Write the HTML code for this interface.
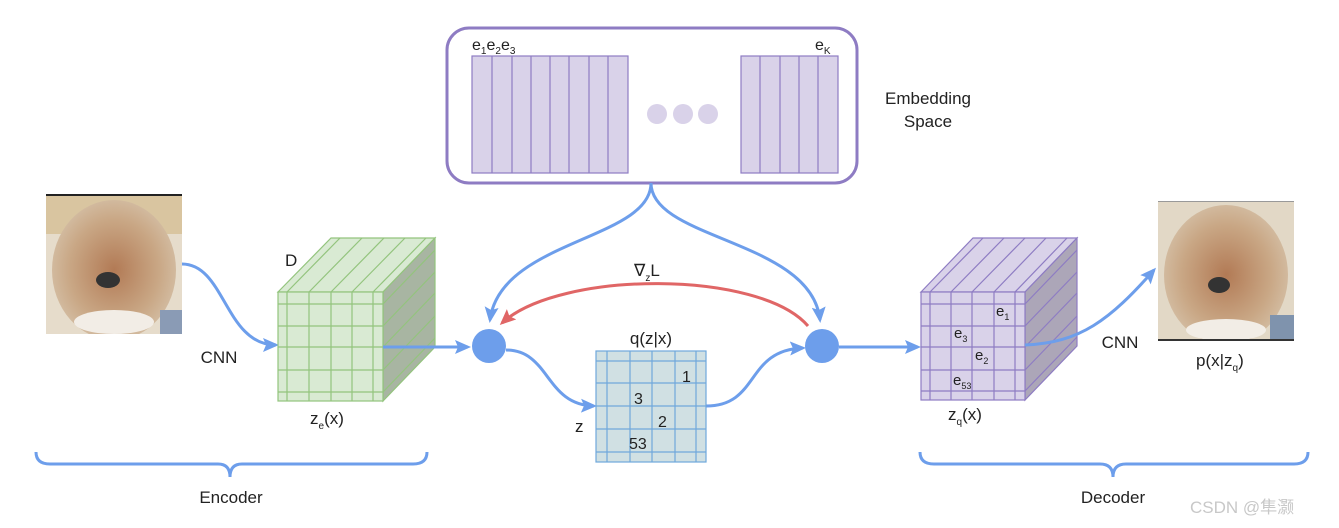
<!DOCTYPE html>
<html><head><style>
html,body{margin:0;padding:0;background:#fff;}
svg{display:block;}
text{font-family:"Liberation Sans",Arial,sans-serif;fill:#222;}
</style></head><body>
<svg width="1339" height="528" viewBox="0 0 1339 528" xmlns="http://www.w3.org/2000/svg">
<defs>
<marker id="ab" markerWidth="16" markerHeight="14" refX="13" refY="7" orient="auto" markerUnits="userSpaceOnUse" viewBox="0 0 16 14"><path d="M0,0 L16,7 L0,14 L3,7z" fill="#6d9eeb"/></marker>
<marker id="ar" markerWidth="16" markerHeight="14" refX="13" refY="7" orient="auto" markerUnits="userSpaceOnUse" viewBox="0 0 16 14"><path d="M0,0 L16,7 L0,14 L3,7z" fill="#e06666"/></marker>
<radialGradient id="dog" cx="0.5" cy="0.5" r="0.6"><stop offset="0" stop-color="#b27a55"/><stop offset="0.6" stop-color="#c9a785"/><stop offset="1" stop-color="#d8c7b0"/></radialGradient>
<clipPath id="c1"><rect x="46" y="194" width="136" height="140"/></clipPath>
<clipPath id="c2"><rect x="1158" y="201" width="136" height="140"/></clipPath>
</defs>

<!-- Embedding space -->
<rect x="447" y="28" width="410" height="155" rx="22" fill="#fff" stroke="#8e7cc3" stroke-width="3"/>
<g fill="#d9d2e9" stroke="#8e7cc3" stroke-width="1.2">
<rect x="472" y="56" width="156" height="117"/>
<rect x="741" y="56" width="97" height="117"/>
</g>
<g stroke="#8e7cc3" stroke-width="1.2">
<line x1="492" y1="56" x2="492" y2="173"/><line x1="512" y1="56" x2="512" y2="173"/><line x1="531" y1="56" x2="531" y2="173"/><line x1="550" y1="56" x2="550" y2="173"/><line x1="569" y1="56" x2="569" y2="173"/><line x1="589" y1="56" x2="589" y2="173"/><line x1="608" y1="56" x2="608" y2="173"/>
<line x1="760" y1="56" x2="760" y2="173"/><line x1="780" y1="56" x2="780" y2="173"/><line x1="799" y1="56" x2="799" y2="173"/><line x1="818" y1="56" x2="818" y2="173"/>
</g>
<g fill="#d9d2e9"><circle cx="657" cy="114" r="10"/><circle cx="683" cy="114" r="10"/><circle cx="708" cy="114" r="10"/></g>
<text x="472" y="50" font-size="16">e<tspan font-size="10" dy="4">1</tspan><tspan dy="-4" font-size="16">e</tspan><tspan font-size="10" dy="4">2</tspan><tspan dy="-4" font-size="16">e</tspan><tspan font-size="10" dy="4">3</tspan></text>
<text x="815" y="50" font-size="16">e<tspan font-size="10" dy="4">K</tspan></text>
<text x="928" y="104" font-size="17" text-anchor="middle">Embedding</text>
<text x="928" y="127" font-size="17" text-anchor="middle">Space</text>

<!-- arrows from embedding -->
<g fill="none" stroke="#6d9eeb" stroke-width="3">
<path d="M651,183 C651,240 500,240 490,320" marker-end="url(#ab)"/>
<path d="M651,183 C651,240 812,240 820,320" marker-end="url(#ab)"/>
</g>
<path d="M808,326 C760,270 560,270 502,323" fill="none" stroke="#e06666" stroke-width="3" marker-end="url(#ar)"/>
<text x="634" y="276" font-size="17">∇<tspan font-size="10" dy="5">z</tspan><tspan dy="-5" font-size="17">L</tspan></text>

<!-- left dog -->
<g clip-path="url(#c1)">
<rect x="46" y="194" width="136" height="140" fill="#e6dccb"/>
<rect x="46" y="194" width="136" height="40" fill="#d9c5a0"/>
<ellipse cx="114" cy="270" rx="62" ry="70" fill="url(#dog)"/>
<ellipse cx="114" cy="322" rx="40" ry="12" fill="#f2ede6"/>
<ellipse cx="108" cy="280" rx="12" ry="8" fill="#333"/>
<rect x="160" y="310" width="22" height="24" fill="#8a9bb5"/>
</g>
<rect x="46" y="194" width="136" height="2" fill="#222"/>
<!-- right dog -->
<g clip-path="url(#c2)">
<rect x="1158" y="201" width="136" height="140" fill="#e2d8c6"/>
<ellipse cx="1226" cy="275" rx="62" ry="70" fill="url(#dog)"/>
<ellipse cx="1226" cy="330" rx="40" ry="11" fill="#f2ede6"/>
<ellipse cx="1219" cy="285" rx="11" ry="8" fill="#333"/>
<rect x="1270" y="315" width="24" height="26" fill="#7f93ad"/>
</g>
<rect x="1158" y="339" width="136" height="2" fill="#333"/>
<rect x="1158" y="201" width="136" height="1" fill="#999"/>

<!-- encoder arrow -->
<path d="M182,264 C225,264 225,345 276,345" fill="none" stroke="#6d9eeb" stroke-width="3" marker-end="url(#ab)"/>
<text x="219" y="363" font-size="17" text-anchor="middle">CNN</text>

<!-- green cube -->
<polygon points="278,292 331,238 435,238 383,292" fill="#d9ead3" stroke="#93c47d" stroke-width="1.2"/>
<polygon points="383,292 435,238 435,347 383,401" fill="#a8b5a2" stroke="#93c47d" stroke-width="1.2"/>
<rect x="278" y="292" width="105" height="109" fill="#d9ead3" stroke="#93c47d" stroke-width="1.2"/>
<g stroke="#93c47d" stroke-width="1.2">
<line x1="287" y1="292" x2="287" y2="401"/><line x1="309" y1="292" x2="309" y2="401"/><line x1="331" y1="292" x2="331" y2="401"/><line x1="352" y1="292" x2="352" y2="401"/><line x1="373" y1="292" x2="373" y2="401"/>
<line x1="278" y1="304" x2="383" y2="304"/><line x1="278" y1="326" x2="383" y2="326"/><line x1="278" y1="347" x2="383" y2="347"/><line x1="278" y1="370" x2="383" y2="370"/><line x1="278" y1="392" x2="383" y2="392"/>
<line x1="287" y1="292" x2="340" y2="238"/><line x1="309" y1="292" x2="362" y2="238"/><line x1="331" y1="292" x2="384" y2="238"/><line x1="352" y1="292" x2="405" y2="238"/><line x1="373" y1="292" x2="426" y2="238"/>
<line x1="383" y1="304" x2="435" y2="250"/><line x1="383" y1="326" x2="435" y2="272"/><line x1="383" y1="347" x2="435" y2="293"/><line x1="383" y1="370" x2="435" y2="316"/><line x1="383" y1="392" x2="435" y2="338"/>
</g>
<text x="285" y="266" font-size="17">D</text>
<text x="310" y="424" font-size="17">z<tspan font-size="10" dy="5">e</tspan><tspan dy="-5" font-size="17">(x)</tspan></text>
<line x1="383" y1="347" x2="468" y2="347" stroke="#6d9eeb" stroke-width="3" marker-end="url(#ab)"/>

<!-- circles -->
<circle cx="489" cy="346" r="17" fill="#6d9eeb"/>
<circle cx="822" cy="346" r="17" fill="#6d9eeb"/>

<!-- grid -->
<path d="M506,350 C550,350 545,405 594,406" fill="none" stroke="#6d9eeb" stroke-width="3" marker-end="url(#ab)"/>
<path d="M706,406 C760,406 745,350 803,348" fill="none" stroke="#6d9eeb" stroke-width="3" marker-end="url(#ab)"/>
<rect x="596" y="351" width="110" height="111" fill="#d0e0e3" stroke="#6fa8dc" stroke-width="1.2"/>
<g stroke="#6fa8dc" stroke-width="1.2">
<line x1="607" y1="351" x2="607" y2="462"/><line x1="630" y1="351" x2="630" y2="462"/><line x1="652" y1="351" x2="652" y2="462"/><line x1="675" y1="351" x2="675" y2="462"/><line x1="696" y1="351" x2="696" y2="462"/>
<line x1="596" y1="361" x2="706" y2="361"/><line x1="596" y1="383" x2="706" y2="383"/><line x1="596" y1="406" x2="706" y2="406"/><line x1="596" y1="429" x2="706" y2="429"/><line x1="596" y1="452" x2="706" y2="452"/>
</g>
<text x="651" y="344" font-size="17" text-anchor="middle">q(z|x)</text>
<text x="682" y="382" font-size="16">1</text>
<text x="634" y="404" font-size="16">3</text>
<text x="658" y="427" font-size="16">2</text>
<text x="629" y="449" font-size="16">53</text>
<text x="575" y="432" font-size="17">z</text>

<!-- purple cube -->
<line x1="839" y1="347" x2="918" y2="347" stroke="#6d9eeb" stroke-width="3" marker-end="url(#ab)"/>
<polygon points="921,292 973,238 1077,238 1025,292" fill="#d9d2e9" stroke="#8e7cc3" stroke-width="1.2"/>
<polygon points="1025,292 1077,238 1077,346 1025,400" fill="#aca6b8" stroke="#8e7cc3" stroke-width="1.2"/>
<rect x="921" y="292" width="104" height="108" fill="#d9d2e9" stroke="#8e7cc3" stroke-width="1.2"/>
<g stroke="#8e7cc3" stroke-width="1.2">
<line x1="930" y1="292" x2="930" y2="400"/><line x1="951" y1="292" x2="951" y2="400"/><line x1="972" y1="292" x2="972" y2="400"/><line x1="994" y1="292" x2="994" y2="400"/><line x1="1015" y1="292" x2="1015" y2="400"/>
<line x1="921" y1="304" x2="1025" y2="304"/><line x1="921" y1="326" x2="1025" y2="326"/><line x1="921" y1="347" x2="1025" y2="347"/><line x1="921" y1="370" x2="1025" y2="370"/><line x1="921" y1="391" x2="1025" y2="391"/>
<line x1="930" y1="292" x2="983" y2="238"/><line x1="951" y1="292" x2="1004" y2="238"/><line x1="972" y1="292" x2="1025" y2="238"/><line x1="994" y1="292" x2="1046" y2="238"/><line x1="1015" y1="292" x2="1067" y2="238"/>
<line x1="1025" y1="304" x2="1077" y2="250"/><line x1="1025" y1="326" x2="1077" y2="272"/><line x1="1025" y1="347" x2="1077" y2="293"/><line x1="1025" y1="370" x2="1077" y2="316"/><line x1="1025" y1="391" x2="1077" y2="337"/>
</g>
<text x="996" y="316" font-size="15">e<tspan font-size="9" dy="4">1</tspan></text>
<text x="954" y="338" font-size="15">e<tspan font-size="9" dy="4">3</tspan></text>
<text x="975" y="360" font-size="15">e<tspan font-size="9" dy="4">2</tspan></text>
<text x="953" y="385" font-size="15">e<tspan font-size="9" dy="4">53</tspan></text>
<text x="948" y="420" font-size="17">z<tspan font-size="10" dy="5">q</tspan><tspan dy="-5" font-size="17">(x)</tspan></text>
<path d="M1025,345 C1080,343 1110,320 1154,270" fill="none" stroke="#6d9eeb" stroke-width="3" marker-end="url(#ab)"/>
<text x="1120" y="348" font-size="17" text-anchor="middle">CNN</text>
<text x="1196" y="366" font-size="17">p(x|z<tspan font-size="10" dy="5">q</tspan><tspan dy="-5" font-size="17">)</tspan></text>

<!-- braces -->
<g fill="none" stroke="#6d9eeb" stroke-width="3">
<path d="M36,452 Q36,464 50,464 L218,464 Q230,464 230,477 Q230,464 242,464 L413,464 Q427,464 427,452"/>
<path d="M920,452 Q920,464 934,464 L1100,464 Q1113,464 1113,477 Q1113,464 1126,464 L1294,464 Q1308,464 1308,452"/>
</g>
<text x="231" y="503" font-size="17" text-anchor="middle">Encoder</text>
<text x="1113" y="503" font-size="17" text-anchor="middle">Decoder</text>
<text x="1190" y="513" font-size="17" style="fill:#c8c8c8" font-family="Liberation Sans, Noto Sans CJK SC, sans-serif">CSDN @隼灏</text>
</svg>
</body></html>
